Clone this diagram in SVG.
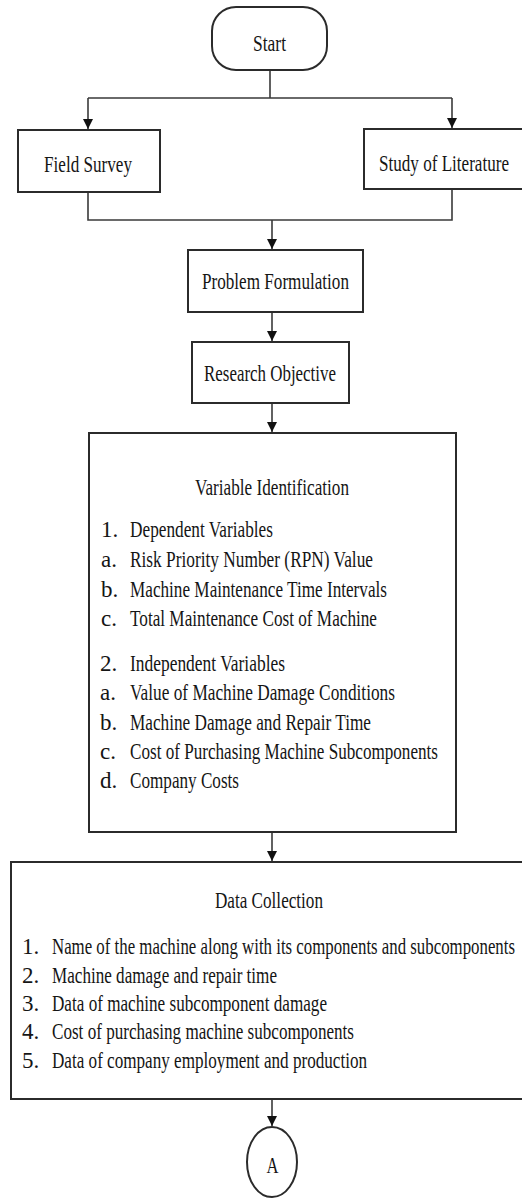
<svg xmlns="http://www.w3.org/2000/svg" width="522" height="1198" viewBox="0 0 522 1198">
<style>
.box{fill:#fff;stroke:#2b2b2b;stroke-width:2}
.ln{fill:none;stroke:#3a3a3a;stroke-width:1.6}
.t{font-family:"Liberation Serif","Times New Roman",serif;font-size:23px;fill:#151515}
.c{text-anchor:middle}
</style>
<defs>
<marker id="a" markerUnits="userSpaceOnUse" markerWidth="10" markerHeight="11" refX="10" refY="5" orient="auto" viewBox="0 0 10 10">
<path d="M0,0 L10,5 L0,10 Z" fill="#111"/>
</marker>
</defs>
<rect width="522" height="1198" fill="#fff"/>
<g id="connectors">
<path class="ln" d="M270,70 V98 M88,98 H452"/>
<path class="ln" d="M88,98 V129" marker-end="url(#a)"/>
<path class="ln" d="M452,98 V128" marker-end="url(#a)"/>
<path class="ln" d="M88,192 V220 H452 V189"/>
<path class="ln" d="M272,220 V249" marker-end="url(#a)"/>
<path class="ln" d="M272,312 V341" marker-end="url(#a)"/>
<path class="ln" d="M272,403 V432" marker-end="url(#a)"/>
<path class="ln" d="M272,832 V861" marker-end="url(#a)"/>
<path class="ln" d="M272,1099 V1126" marker-end="url(#a)"/>
</g>
<g id="start">
<rect class="box" x="212" y="7" width="115" height="63" rx="24" ry="24"/>
<text class="t c" x="269.5" y="51" textLength="33" lengthAdjust="spacingAndGlyphs">Start</text>
</g>
<g id="field-survey">
<rect class="box" x="18" y="130" width="142" height="62"/>
<text class="t" x="44" y="172" textLength="88" lengthAdjust="spacingAndGlyphs">Field Survey</text>
</g>
<g id="study-literature">
<rect class="box" x="364" y="129" width="170" height="60"/>
<text class="t" x="379" y="171" textLength="130" lengthAdjust="spacingAndGlyphs">Study of Literature</text>
</g>
<g id="problem-formulation">
<rect class="box" x="188" y="250" width="175" height="62"/>
<text class="t" x="202" y="289" textLength="147" lengthAdjust="spacingAndGlyphs">Problem Formulation</text>
</g>
<g id="research-objective">
<rect class="box" x="192" y="342" width="157" height="61"/>
<text class="t" x="204" y="381" textLength="132" lengthAdjust="spacingAndGlyphs">Research Objective</text>
</g>
<g id="variable-identification">
<rect class="box" x="89" y="433" width="367" height="399"/>
<text class="t" x="195" y="495" textLength="154" lengthAdjust="spacingAndGlyphs">Variable Identification</text>
<text class="t" x="101" y="537">1.</text>
<text class="t" x="130" y="537" textLength="143" lengthAdjust="spacingAndGlyphs">Dependent Variables</text>
<text class="t" x="101" y="567">a.</text>
<text class="t" x="130" y="567" textLength="243" lengthAdjust="spacingAndGlyphs">Risk Priority Number (RPN) Value</text>
<text class="t" x="101" y="597">b.</text>
<text class="t" x="130" y="597" textLength="257" lengthAdjust="spacingAndGlyphs">Machine Maintenance Time Intervals</text>
<text class="t" x="101" y="626">c.</text>
<text class="t" x="130" y="626" textLength="247" lengthAdjust="spacingAndGlyphs">Total Maintenance Cost of Machine</text>
<text class="t" x="100" y="671">2.</text>
<text class="t" x="130" y="671" textLength="155" lengthAdjust="spacingAndGlyphs">Independent Variables</text>
<text class="t" x="100" y="700">a.</text>
<text class="t" x="130" y="700" textLength="265" lengthAdjust="spacingAndGlyphs">Value of Machine Damage Conditions</text>
<text class="t" x="100" y="730">b.</text>
<text class="t" x="130" y="730" textLength="241" lengthAdjust="spacingAndGlyphs">Machine Damage and Repair Time</text>
<text class="t" x="100" y="759">c.</text>
<text class="t" x="130" y="759" textLength="308" lengthAdjust="spacingAndGlyphs">Cost of Purchasing Machine Subcomponents</text>
<text class="t" x="100" y="788">d.</text>
<text class="t" x="130" y="788" textLength="109" lengthAdjust="spacingAndGlyphs">Company Costs</text>
</g>
<g id="data-collection">
<rect class="box" x="11" y="862" width="525" height="237"/>
<text class="t" x="215" y="908" textLength="108" lengthAdjust="spacingAndGlyphs">Data Collection</text>
<text class="t" x="22" y="954">1.</text>
<text class="t" x="52" y="954" textLength="463" lengthAdjust="spacingAndGlyphs">Name of the machine along with its components and subcomponents</text>
<text class="t" x="22" y="983">2.</text>
<text class="t" x="52" y="983" textLength="225" lengthAdjust="spacingAndGlyphs">Machine damage and repair time</text>
<text class="t" x="22" y="1011">3.</text>
<text class="t" x="52" y="1011" textLength="275" lengthAdjust="spacingAndGlyphs">Data of machine subcomponent damage</text>
<text class="t" x="22" y="1039">4.</text>
<text class="t" x="52" y="1039" textLength="302" lengthAdjust="spacingAndGlyphs">Cost of purchasing machine subcomponents</text>
<text class="t" x="22" y="1068">5.</text>
<text class="t" x="52" y="1068" textLength="315" lengthAdjust="spacingAndGlyphs">Data of company employment and production</text>
</g>
<g id="connector-a">
<ellipse class="box" cx="272" cy="1162" rx="25" ry="35"/>
<text class="t c" x="272.5" y="1173" textLength="12" lengthAdjust="spacingAndGlyphs">A</text>
</g>
</svg>
